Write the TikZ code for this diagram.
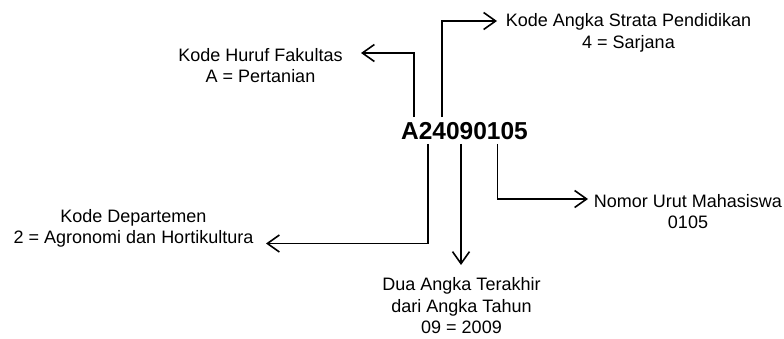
\documentclass[tikz,border=0pt]{standalone}
\usepackage{fontspec}
\setmainfont{Liberation Sans}
\usetikzlibrary{arrows.meta}

\tikzset{
  ket/.style={align=center, inner sep=0pt, anchor=base, font=\fontsize{18}{21.5}\selectfont},
  link/.style={line width=1.6pt, -{Straight Barb[length=12pt,width=17pt,line width=1.6pt]}}
}

\begin{document}
\begin{tikzpicture}[x=1pt, y=-1pt]
  \useasboundingbox (0,0) rectangle (784,338);
  \node[anchor=base, inner xsep=0pt, inner ysep=4.5pt, font=\fontsize{24.5}{28}\selectfont\bfseries] (kode) at (464.5,139) {A24090105};
  \node[ket] (fak) at (260.5,82.5) {Kode Huruf Fakultas\\A = Pertanian};
  \node[ket] (strata) at (628.5,48) {Kode Angka Strata Pendidikan\\4 = Sarjana};
  \node[ket] (dept) at (133.5,243.5) {Kode Departemen\\2 = Agronomi dan Hortikultura};
  \node[ket] (thn) at (461.5,333.5) {Dua Angka Terakhir\\dari Angka Tahun\\09 = 2009};
  \node[ket] (urut) at (688,228.5) {Nomor Urut Mahasiswa\\0105};
  \coordinate (fakBend) at (414,53);
  \coordinate (fakEnd) at (361,53);
  \coordinate (strataBend) at (442,21);
  \coordinate (strataEnd) at (497,21);
  \coordinate (deptBend) at (428,243.5);
  \coordinate (deptEnd) at (266,243.5);
  \coordinate (thnEnd) at (461,265);
  \coordinate (urutBend) at (497.5,199);
  \coordinate (urutEnd) at (588,199);
  \draw[link] (kode.north -| fakBend) |- (fakEnd);
  \draw[link] (kode.north -| strataBend) |- (strataEnd);
  \draw[link] (kode.south -| deptBend) |- (deptEnd);
  \draw[link] (kode.south -| thnEnd) -- (thnEnd);
  \draw[link] (kode.south -| urutBend) |- (urutEnd);
\end{tikzpicture}
\end{document}
